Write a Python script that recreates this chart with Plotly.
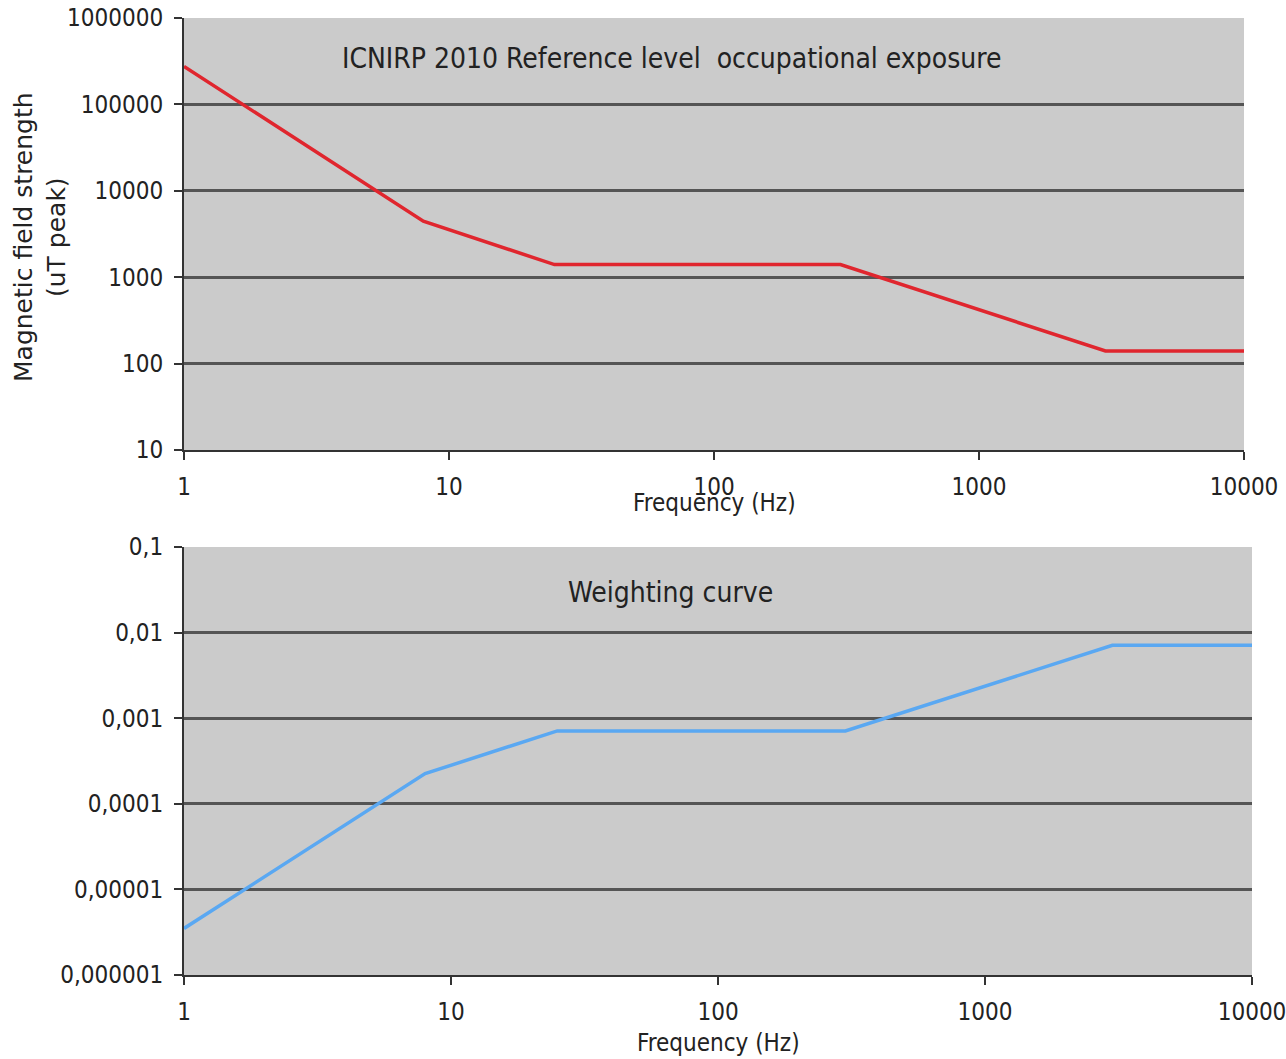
import plotly.graph_objects as go

# Data
freq_hz = [1, 8, 25, 300, 3000, 10000]
b_peak_ut = [275000, 4450, 1400, 1400, 140, 140]
weighting = [3.5e-6, 2.25e-4, 7.1e-4, 7.1e-4, 7.1e-3, 7.1e-3]

x_tickvals = [1, 10, 100, 1000, 10000]
x_ticktext = ["1", "10", "100", "1000", "10000"]
y1_tickvals = [10, 100, 1000, 10000, 100000, 1000000]
y1_ticktext = ["10", "100", "1000", "10000", "100000", "1000000"]
y2_tickvals = [1e-6, 1e-5, 1e-4, 1e-3, 1e-2, 1e-1]
y2_ticktext = ["0,000001", "0,00001", "0,0001", "0,001", "0,01", "0,1"]

W, H = 1286, 1059
def fx(px):
    return px / W
def fy(py):
    return 1 - py / H

COND = "DejaVu Sans Condensed, DejaVu Sans"
TICK_FONT = dict(family=COND, size=24, color="#222222")
GRID = "#555555"
BG = "#cbcbcb"

fig = go.Figure()
fig.add_trace(go.Scatter(x=freq_hz, y=b_peak_ut, mode="lines",
                         line=dict(color="#e0262e", width=3.5),
                         xaxis="x", yaxis="y", showlegend=False))
fig.add_trace(go.Scatter(x=freq_hz, y=weighting, mode="lines",
                         line=dict(color="#5aa8f2", width=3.5),
                         xaxis="x2", yaxis="y2", showlegend=False))

common_x = dict(type="log", showgrid=False, zeroline=False, automargin=False,
                showline=True, linecolor="#333333", linewidth=2,
                ticks="outside", ticklen=8, tickcolor="#333333", tickwidth=2,
                tickvals=x_tickvals, ticktext=x_ticktext, tickfont=TICK_FONT,
                ticklabelstandoff=6, ticklabeloverflow="allow", mirror=False)
common_y = dict(type="log", showgrid=True, gridcolor=GRID, gridwidth=3,
                zeroline=False, showline=True, linecolor="#333333", linewidth=2,
                automargin=False, ticklabeloverflow="allow",
                ticks="outside", ticklen=8, tickcolor="#333333", tickwidth=2,
                tickfont=TICK_FONT, ticklabelstandoff=6)

fig.update_layout(
    width=W, height=H,
    margin=dict(l=0, r=0, t=0, b=0, autoexpand=False),
    paper_bgcolor="white",
    plot_bgcolor=BG,
    xaxis=dict(common_x, domain=[fx(184), fx(1244)], range=[0, 4], anchor="y"),
    yaxis=dict(common_y, domain=[fy(450), fy(18)], range=[1, 6], anchor="x",
               tickvals=y1_tickvals, ticktext=y1_ticktext),
    xaxis2=dict(common_x, domain=[fx(184), fx(1252)], range=[0, 4], anchor="y2"),
    yaxis2=dict(common_y, domain=[fy(975), fy(547)], range=[-6, -1], anchor="x2",
                tickvals=y2_tickvals, ticktext=y2_ticktext),
)

ann_font = dict(family=COND, size=28, color="#222222")
fig.add_annotation(text="ICNIRP 2010 Reference level  occupational exposure",
                   x=fx(671), y=fy(58), xref="paper", yref="paper",
                   showarrow=False, font=ann_font, xanchor="center", yanchor="middle")
fig.add_annotation(text="Weighting curve",
                   x=fx(670), y=fy(592), xref="paper", yref="paper",
                   showarrow=False, font=ann_font, xanchor="center", yanchor="middle")
xt_font = dict(family=COND, size=24, color="#222222")
fig.add_annotation(text="Frequency (Hz)", x=fx(714), y=fy(503), xref="paper", yref="paper",
                   showarrow=False, font=xt_font, xanchor="center", yanchor="middle")
fig.add_annotation(text="Frequency (Hz)", x=fx(718), y=fy(1043), xref="paper", yref="paper",
                   showarrow=False, font=xt_font, xanchor="center", yanchor="middle")
fig.add_annotation(text="Magnetic field strength<br>(uT peak)", x=fx(40), y=fy(237),
                   xref="paper", yref="paper", showarrow=False, textangle=-90,
                   font=dict(family="DejaVu Sans", size=25, color="#222222"),
                   xanchor="center", yanchor="middle")

fig.write_html("out.html")
